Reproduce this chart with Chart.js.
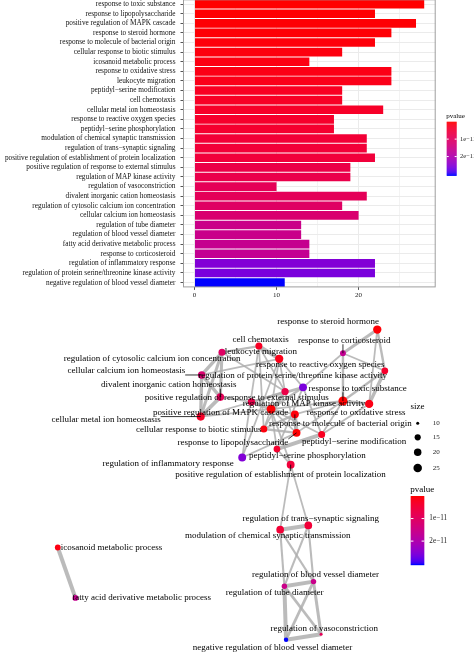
<!DOCTYPE html>
<html><head><meta charset="utf-8">
<script src="https://cdn.jsdelivr.net/npm/chart.js@4.4.1/dist/chart.umd.min.js"></script>
<style>
html,body{margin:0;padding:0;background:#fff;overflow:hidden;}
#wrap{position:relative;width:474px;height:656px;overflow:hidden;background:#fff;}
#bar{position:absolute;left:0;top:-20px;}
#net{position:absolute;left:0;top:300px;}
</style></head><body>
<div id="wrap"><canvas id="bar" width="474" height="320"></canvas><canvas id="net" width="474" height="356"></canvas></div>
<script>
// ---------------- DATA ----------------
const M = '\u2212';
const terms = [
  'response to toxic substance',
  'response to lipopolysaccharide',
  'positive regulation of MAPK cascade',
  'response to steroid hormone',
  'response to molecule of bacterial origin',
  'cellular response to biotic stimulus',
  'icosanoid metabolic process',
  'response to oxidative stress',
  'leukocyte migration',
  'peptidyl' + M + 'serine modification',
  'cell chemotaxis',
  'cellular metal ion homeostasis',
  'response to reactive oxygen species',
  'peptidyl' + M + 'serine phosphorylation',
  'modulation of chemical synaptic transmission',
  'regulation of trans' + M + 'synaptic signaling',
  'positive regulation of establishment of protein localization',
  'positive regulation of response to external stimulus',
  'regulation of MAP kinase activity',
  'regulation of vasoconstriction',
  'divalent inorganic cation homeostasis',
  'regulation of cytosolic calcium ion concentration',
  'cellular calcium ion homeostasis',
  'regulation of tube diameter',
  'regulation of blood vessel diameter',
  'fatty acid derivative metabolic process',
  'response to corticosteroid',
  'regulation of inflammatory response',
  'regulation of protein serine/threonine kinase activity',
  'negative regulation of blood vessel diameter'
];
const geneCounts = [28,22,27,24,22,18,14,24,24,18,18,23,17,17,21,21,22,19,19,10,21,18,20,13,13,14,14,22,22,11];
const pvalues = [0.001,0.01,0.02,0.03,0.05,0.07,0.09,0.11,0.14,0.22,0.25,0.28,0.33,0.36,0.44,0.46,0.50,0.66,0.70,0.85,0.88,1.02,1.18,1.52,1.55,1.62,1.66,2.55,2.62,3.06].map(v => v * 1e-11);
const countTicks = [0, 10, 20];
const pvalueTicks = [1e-11, 2e-11];
const pvalueTickLabels = ['1e' + M + '11', '2e' + M + '11'];
const sizeBreaks = [10, 15, 20, 25];

// ---------------- NETWORK LAYOUT (graph coordinates) ----------------
const nodeX = [345,297.7,271.7,380,296,264.3,54.3,371.7,280,323.3,259.3,200,387.7,277.7,281,309.7,291.7,286,251.7,322.7,220,221.7,201,285.3,315,72.3,345,242.3,304.3,287];
const nodeY = [399,431.7,407.3,325.7,412.7,427.7,549.3,402,355.7,433.3,342.7,415,368,448.3,531,526.7,464.3,389.3,400,638.3,395,349,372.3,589,584.3,601,350,457,385,644];
const labelX = [360,232.8,220.3,330,342.3,198,109,358.5,261.3,356.3,261,103.5,321.8,308.7,268.3,312.2,281.3,236.8,305.3,326,167.5,150.5,124.2,275.3,317,139.8,346.3,166.7,293.7,273.2];
const labelY = [386,442,410.5,317.5,422.6,428.3,549.3,410.7,348.5,440.7,335.7,417.7,361.7,455,536.7,520,475,396,402,632.7,382.3,355.7,368.3,595.7,577.3,601,336.7,463.3,373.3,651.7];
const leaders = [0,1,4,11,16,20,22,26];
// similarity links: [termA, termB, similarity]
const edges = [
  [21,22,.8],[21,20,.7],[21,11,.7],[22,20,.8],[22,11,.8],[20,11,.9],[21,10,.4],[22,8,.3],[11,2,.3],[20,18,.3],[11,18,.3],[21,17,.3],
  [10,8,1],[8,27,.3],[10,27,.3],[8,2,.3],[10,17,.3],[8,17,.3],[10,5,.3],[8,28,.3],
  [2,18,.8],[2,28,.5],[18,28,.6],[2,17,.5],[18,17,.4],[13,9,1],[13,28,.3],[9,28,.3],[2,16,.3],[13,16,.3],[9,2,.3],[13,2,.3],
  [1,4,1],[1,5,.5],[4,5,.5],[5,2,.3],[1,2,.3],[4,2,.3],[1,27,.3],[0,7,.7],[0,12,.5],[7,12,.8],[0,26,.5],[26,3,.7],[3,12,.5],[3,7,.3],[26,12,.3],[26,28,.3],[0,4,.3],[0,1,.3],[0,9,.3],[17,5,.3],[17,1,.3],[0,2,.3],[7,9,.3],
  [16,14,.3],[16,15,.3],[14,15,1],[14,23,.4],[14,24,.4],[15,23,.4],[15,24,.4],[23,24,1],[23,29,1],[24,19,.7],[23,19,.6],[24,29,.6],[29,19,1],[6,25,1]
];

// ---------------- COLOUR (CIELAB ramp red -> blue) ----------------
function toLin(c){c/=255;return c<=0.04045?c/12.92:Math.pow((c+0.055)/1.055,2.4);}
function toS(c){c=c<=0.0031308?12.92*c:1.055*Math.pow(c,1/2.4)-0.055;return Math.max(0,Math.min(255,Math.round(c*255)));}
const Wn=[0.95047,1,1.08883];
function rgb2lab(r,g,b){const R=toLin(r),G=toLin(g),B=toLin(b);
  const X=(0.4124564*R+0.3575761*G+0.1804375*B)/Wn[0],Y=(0.2126729*R+0.7151522*G+0.0721750*B),Z=(0.0193339*R+0.1191920*G+0.9503041*B)/Wn[2];
  const f=t=>t>216/24389?Math.cbrt(t):(24389/27*t+16)/116;
  const fx=f(X),fy=f(Y),fz=f(Z);return [116*fy-16,500*(fx-fy),200*(fy-fz)];}
function lab2rgb(L,a,b){const fy=(L+16)/116,fx=fy+a/500,fz=fy-b/200;
  const inv=t=>{const t3=t*t*t;return t3>216/24389?t3:(116*t-16)/(24389/27);};
  const X=inv(fx)*Wn[0],Y=inv(fy),Z=inv(fz)*Wn[2];
  return [toS(3.2404542*X-1.5371385*Y-0.4985314*Z),toS(-0.9692660*X+1.8760108*Y+0.0415560*Z),toS(0.0556434*X-0.2040259*Y+1.0572252*Z)];}
const LOW=rgb2lab(255,0,0), HIGH=rgb2lab(0,0,255);
const pMin = 0, pMax = Math.max(...pvalues);
function pColor(p){const t=Math.max(0,Math.min(1,(p-pMin)/(pMax-pMin)));
  const c=lab2rgb(LOW[0]+(HIGH[0]-LOW[0])*t,LOW[1]+(HIGH[1]-LOW[1])*t,LOW[2]+(HIGH[2]-LOW[2])*t);
  return 'rgb('+c.join(',')+')';}
function nodeRadius(n){return 1.5+3*Math.sqrt(Math.max(0,n-10)/18);}

const SERIF = "'Liberation Serif','Times New Roman',serif";

function drawColorbar(ctx, x, y, w, h, title, titleSize, labSize, labX){
  ctx.save();
  ctx.fillStyle='#000';ctx.font=titleSize+'px '+SERIF;ctx.textAlign='left';ctx.textBaseline='alphabetic';
  ctx.fillText(title, x-0.5, y-4);
  for(let i=0;i<h;i++){ctx.fillStyle=pColor(pMin+(pMax-pMin)*(i/(h-1)));ctx.fillRect(x,y+i,w,1.2);}
  ctx.font=labSize+'px '+SERIF;ctx.textBaseline='middle';
  pvalueTicks.forEach((v,k)=>{
    const yy=y+h*(v-pMin)/(pMax-pMin);
    ctx.strokeStyle='#fff';ctx.lineWidth=1;
    ctx.beginPath();ctx.moveTo(x,yy);ctx.lineTo(x+w*0.2,yy);ctx.moveTo(x+w*0.8,yy);ctx.lineTo(x+w,yy);ctx.stroke();
    ctx.fillStyle='#222';ctx.fillText(pvalueTickLabels[k], labX, yy);
  });
  ctx.restore();
}

// ---------------- TOP: bar chart ----------------
const panelPlugin = {
  id:'panel',
  afterDraw(chart){
    const {ctx, chartArea:a} = chart;
    ctx.save();ctx.strokeStyle='#9e9e9e';ctx.lineWidth=1;
    ctx.strokeRect(a.left+0.5,a.top+0.5,a.right-a.left-1,a.bottom-a.top-1);
    ctx.restore();
    drawColorbar(ctx, 446.7, 141.7, 10, 53.3, 'pvalue', 7, 6.5, 460);
  }
};
new Chart(document.getElementById('bar'), {
  type:'bar',
  data:{labels:terms,datasets:[{data:geneCounts,backgroundColor:pvalues.map(pColor),borderWidth:0,barPercentage:0.9,categoryPercentage:1.0}]},
  options:{
    indexAxis:'y',responsive:false,animation:false,devicePixelRatio:1,
    layout:{padding:{top:19.3,right:38.3,left:0,bottom:0}},
    plugins:{legend:{display:false},tooltip:{enabled:false}},
    scales:{
      x:{min:-1.4,max:29.4,
        ticks:{stepSize:5,includeBounds:false,autoSkip:false,maxRotation:0,padding:1.5,color:'#222',font:{family:SERIF,size:7},
          callback:v=>countTicks.includes(v)?String(v):''},
        grid:{color:'#ebebeb',lineWidth:c=>countTicks.includes(c.tick&&c.tick.value)?1:0.6,tickLength:2.5,
          tickColor:c=>countTicks.includes(c.tick&&c.tick.value)?'#555':'rgba(0,0,0,0)'},
        border:{display:false},
        afterFit:s=>{s.height=12.6;}
      },
      y:{ticks:{autoSkip:false,padding:5,color:'#111',font:{family:SERIF,size:7.3}},
        grid:{offset:false,color:'#ebebeb',lineWidth:1,tickLength:2.5,tickColor:'#555'},
        border:{display:false},
        afterFit:s=>{s.width=183;}
      }
    }
  },
  plugins:[panelPlugin]
});

// ---------------- BOTTOM: enrichment map ----------------
const netDatasets = edges.map(([a,b,s])=>({
  type:'line',data:[{x:nodeX[a],y:nodeY[a]},{x:nodeX[b],y:nodeY[b]}],
  borderColor:'rgba(175,175,175,0.85)',borderWidth:0.8+3.2*s,pointRadius:0,order:2,tension:0
}));
netDatasets.push({
  type:'scatter',data:terms.map((t,i)=>({x:nodeX[i],y:nodeY[i]})),
  pointRadius:geneCounts.map(nodeRadius),backgroundColor:pvalues.map(pColor),borderWidth:0,order:1
});
const labelPlugin = {
  id:'netLabels',
  afterDatasetsDraw(chart){
    const {ctx} = chart, xs=chart.scales.x, ys=chart.scales.y;
    ctx.save();
    ctx.font='9px '+SERIF;ctx.textAlign='center';ctx.textBaseline='middle';
    terms.forEach((t,i)=>{
      const lx=xs.getPixelForValue(labelX[i]), ly=ys.getPixelForValue(labelY[i]);
      const nx=xs.getPixelForValue(nodeX[i]), ny=ys.getPixelForValue(nodeY[i]);
      if(leaders.includes(i)){
        const w=ctx.measureText(t).width/2, h=4;
        const px=Math.max(lx-w,Math.min(lx+w,nx)), py=Math.max(ly-h,Math.min(ly+h,ny));
        ctx.strokeStyle='#000';ctx.lineWidth=0.8;
        ctx.beginPath();ctx.moveTo(px,py);ctx.lineTo(nx,ny);ctx.stroke();
      }
      ctx.fillStyle='#000';
      ctx.fillText(t,lx,ly);
    });
    ctx.restore();
    // size legend
    ctx.save();
    ctx.fillStyle='#000';ctx.font='9px '+SERIF;ctx.textAlign='left';ctx.textBaseline='middle';
    ctx.fillText('size', 410.5, 106.5);
    const sizeY=[123.3,137.3,152.3,168];
    ctx.beginPath();ctx.rect(0,0,441,356);ctx.clip();
    sizeBreaks.forEach((s,k)=>{
      ctx.fillStyle='#000';ctx.beginPath();ctx.arc(417.7,sizeY[k],nodeRadius(s),0,Math.PI*2);ctx.fill();
      ctx.font='7px '+SERIF;ctx.fillStyle='#222';ctx.fillText(String(s),432.7,sizeY[k]);
    });
    ctx.restore();
    drawColorbar(ctx, 410.7, 196, 13.6, 69, 'pvalue', 9, 7.2, 429.3);
  }
};
new Chart(document.getElementById('net'), {
  type:'scatter',
  data:{datasets:netDatasets},
  options:{
    responsive:false,animation:false,devicePixelRatio:1,
    layout:{padding:0},
    plugins:{legend:{display:false},tooltip:{enabled:false}},
    scales:{
      x:{type:'linear',min:0,max:474,display:false},
      y:{type:'linear',min:300,max:656,reverse:true,display:false}
    }
  },
  plugins:[labelPlugin]
});
</script>
</body></html>
